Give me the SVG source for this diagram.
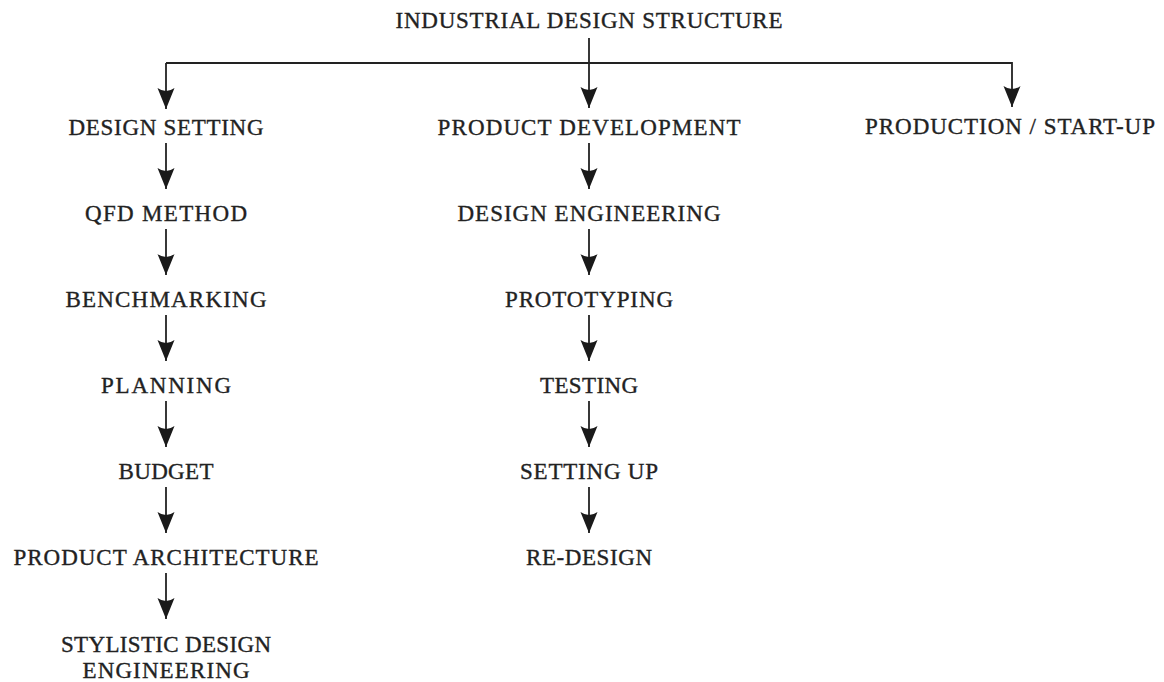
<svg xmlns="http://www.w3.org/2000/svg" width="1164" height="682" viewBox="0 0 1164 682">
<style>
text{font-family:"Liberation Serif","DejaVu Serif",serif;font-size:23px;fill:#222;stroke:#222;stroke-width:0.35;text-anchor:middle}
.ln{stroke:#222;stroke-width:1.8;fill:none}
</style>
<defs>
<marker id="ah" viewBox="-22 -9 23 18" refX="0" refY="0" markerWidth="23" markerHeight="18" markerUnits="userSpaceOnUse" orient="auto">
<path d="M0,0 L-21,-8.5 Q-15,0 -21,8.5 Z" fill="#1a1a1a"/>
</marker>
</defs>
<rect width="1164" height="682" fill="#fff"/>
<g id="connectors">
<path class="ln" d="M589,38 V108" marker-end="url(#ah)"/>
<path class="ln" d="M166,63 H1012 V107" marker-end="url(#ah)"/>
<path class="ln" d="M166,63 V109" marker-end="url(#ah)"/>
<path class="ln" d="M166,143 V189" marker-end="url(#ah)"/>
<path class="ln" d="M166,229 V275" marker-end="url(#ah)"/>
<path class="ln" d="M166,315 V361" marker-end="url(#ah)"/>
<path class="ln" d="M166,401 V447" marker-end="url(#ah)"/>
<path class="ln" d="M166,487 V533" marker-end="url(#ah)"/>
<path class="ln" d="M166,573 V619" marker-end="url(#ah)"/>
<path class="ln" d="M589,143 V189" marker-end="url(#ah)"/>
<path class="ln" d="M589,229 V275" marker-end="url(#ah)"/>
<path class="ln" d="M589,315 V361" marker-end="url(#ah)"/>
<path class="ln" d="M589,401 V447" marker-end="url(#ah)"/>
<path class="ln" d="M589,487 V533" marker-end="url(#ah)"/>
</g>
<g id="title"><text x="589" y="28" textLength="387">INDUSTRIAL DESIGN STRUCTURE</text></g>
<g id="design-setting"><text x="166" y="135" textLength="195">DESIGN SETTING</text></g>
<g id="qfd-method"><text x="166" y="221" textLength="162">QFD METHOD</text></g>
<g id="benchmarking"><text x="166" y="307" textLength="201">BENCHMARKING</text></g>
<g id="planning"><text x="166" y="393" textLength="130">PLANNING</text></g>
<g id="budget"><text x="166" y="479" textLength="95">BUDGET</text></g>
<g id="product-architecture"><text x="166" y="565" textLength="305">PRODUCT ARCHITECTURE</text></g>
<g id="stylistic-design-engineering"><text x="166" y="652" textLength="210">STYLISTIC DESIGN</text><text x="166" y="678" textLength="167">ENGINEERING</text></g>
<g id="product-development"><text x="589" y="135" textLength="303">PRODUCT DEVELOPMENT</text></g>
<g id="design-engineering"><text x="589" y="221" textLength="263">DESIGN ENGINEERING</text></g>
<g id="prototyping"><text x="589" y="307" textLength="168">PROTOTYPING</text></g>
<g id="testing"><text x="589" y="393" textLength="98">TESTING</text></g>
<g id="setting-up"><text x="589" y="479" textLength="138">SETTING UP</text></g>
<g id="re-design"><text x="589" y="565" textLength="126">RE-DESIGN</text></g>
<g id="production-start-up"><text x="1010" y="134" textLength="290">PRODUCTION / START-UP</text></g>
</svg>
